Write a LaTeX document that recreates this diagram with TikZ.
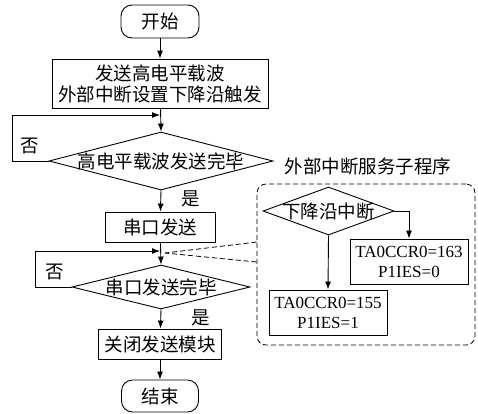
\documentclass[tikz,border=0pt]{standalone}
\usepackage{fontspec}
\setmainfont{Liberation Serif}
\newfontfamily\cjk{Noto Sans CJK SC}
\usetikzlibrary{shapes.geometric,arrows.meta}
\tikzset{
  base/.style={draw=black, line width=0.9pt, inner sep=0pt, align=center},
  cjktext/.style={font=\cjk\fontsize{18.5}{21}\selectfont},
  proc/.style={base, rectangle, cjktext},
  term/.style={base, rectangle, rounded corners=11pt, cjktext},
  dec/.style={base, diamond},
  code/.style={base, rectangle, font=\fontsize{17}{20}\selectfont},
  lbl/.style={inner sep=0pt, cjktext},
  arr/.style={line width=0.9pt, -{Latex[length=8pt,width=6pt]}},
  dsh/.style={line width=0.8pt, dash pattern=on 5pt off 3pt},
}
\begin{document}
\begin{tikzpicture}[x=1pt,y=-1pt]
\useasboundingbox (0,0) rectangle (478,413);
% main flow
\node[term, minimum width=78pt, minimum height=33pt] (start) at (160,21.5) {开始};
\node[proc, minimum width=216pt, minimum height=49pt] (b1) at (160,83.5) {发送高电平载波\\外部中断设置下降沿触发};
\node[dec, minimum width=224pt, minimum height=58pt] (d1) at (161,161) {};
\node[lbl] (d1t) at (d1.center) {高电平载波发送完毕};
\node[proc, minimum width=110pt, minimum height=30pt] (b2) at (160,227) {串口发送};
\node[dec, minimum width=178pt, minimum height=44pt] (d2) at (161,287) {};
\node[lbl] (d2t) at (d2.center) {串口发送完毕};
\node[proc, minimum width=123pt, minimum height=30pt] (b3) at (160,344) {关闭发送模块};
\node[term, minimum width=77pt, minimum height=32pt] (end) at (160,396) {结束};
% labels
\node[lbl] (no1) at (30,146) {否};
\node[lbl] (yes1) at (191,199) {是};
\node[lbl] (no2) at (55,272) {否};
\node[lbl] (yes2) at (201,318) {是};
% connectors
\draw[arr] (start) -- (b1);
\draw[arr] (b1) -- (d1.north);
\draw[arr] (d1.south) -- (b2);
\draw[arr] (b2) -- (d2.north);
\draw[arr] (d2.south) -- (b3);
\draw[arr] (b3) -- (end);
\coordinate (l1) at (12,115);
\coordinate (l2) at (35,251);
\draw[arr] (d1.west) -- (d1.west -| l1) -- (l1) -- (l1 -| b1.south);
\draw[arr] (d2.west) -- (d2.west -| l2) -- (l2) -- (l2 -| b2.south);
% subroutine
\node[draw=black, dsh, rounded corners=9pt, minimum width=218pt, minimum height=161pt, inner sep=0pt] (sub) at (366,264.5) {};
\node[lbl] (subt) at (368,166) {外部中断服务子程序};
\node[dec, minimum width=131pt, minimum height=48pt] (d3) at (328.5,211) {};
\node[lbl] (d3t) at (d3.center) {下降沿中断};
\node[code, minimum width=118pt, minimum height=45pt] (b4) at (409,261.5) {TA0CCR0=163\\P1IES=0};
\node[code, minimum width=118pt, minimum height=45pt] (b5) at (328,312.5) {TA0CCR0=155\\P1IES=1};
\draw[arr] (d3.east) -| (b4.north);
\draw[arr] (d3.south) -- (b5.north);
\coordinate (conv) at (165,253);
\draw[dsh] (sub.west |- 0,242) -- (conv);
\draw[dsh] (sub.west |- 0,262) -- (conv);
\end{tikzpicture}
\end{document}
